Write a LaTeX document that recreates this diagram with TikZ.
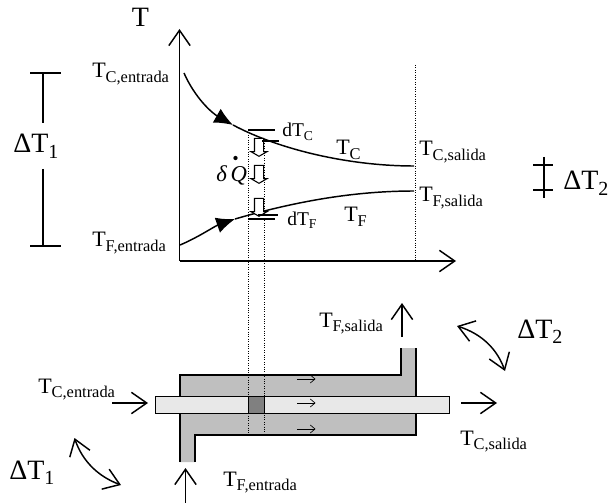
\documentclass[tikz,border=0pt]{standalone}
\usepackage{fontspec}
\setmainfont{Liberation Serif}
\usetikzlibrary{arrows.meta,shapes.arrows}
\newcommand{\subs}[3]{#2\raisebox{-0.2em}{\fontsize{#1}{#1}\selectfont #3}}
\tikzset{
   big label/.style={anchor=base west, inner sep=0pt, font=\fontsize{21}{21}\selectfont},
   temp label/.style={anchor=base west, inner sep=0pt, font=\fontsize{16.5}{16.5}\selectfont},
   diff label/.style={anchor=base west, inner sep=0pt, font=\fontsize{14.6}{14.6}\selectfont},
   branch/.style={fill, shape=circle, minimum size=3.2pt, inner sep=0pt},
   heat arrow/.style={draw=black, fill=white, line width=0.8pt, single arrow, rotate=-90, single arrow head extend=2.6pt, single arrow tip angle=120, minimum height=13.5pt, inner xsep=0pt, inner ysep=3pt},
   mark line/.style={line width=0.9pt},
   curve/.style={line width=1.1pt},
   guide/.style={densely dotted, line width=0.8pt},
   tube/.style={draw=black, line width=1pt},
   >={Straight Barb[length=11.5pt,width=16pt,line width=1.1pt]}
}

\begin{document}
\begin{tikzpicture}[x=0.75pt,y=-0.75pt]
  \useasboundingbox (0,0) rectangle (608,503);

  %% Exchanger body
  \coordinate (in left)   at (180,462);
  \coordinate (in right)  at (195,462);
  \coordinate (out left)  at (401,348);
  \coordinate (out right) at (416,348);
  \fill[black!25] (in left) |- (401,375) -- (out left) -- (out right) |- (195,435) -- (in right) -- cycle;
  \draw[tube] (in left) |- (401,375) -- (out left);
  \draw[tube] (out right) |- (195,435) -- (in right);
  \node[tube, fill=black!9, minimum width=220.5pt, minimum height=12.75pt, inner sep=0pt, anchor=west] at (155,405) (inner tube) {};
  \node[tube, fill=black!50, minimum width=12pt, minimum height=12.75pt, inner sep=0pt] at (256.5,405) (cell) {};

  %% Axes
  \coordinate (origin) at (179.5,261);
  \coordinate (y end)  at (179.5,29);
  \coordinate (x end)  at (456,261);
  \draw[->,curve] (origin) -- (y end);
  \draw[->,curve] (origin) -- (x end);
  \node[big label, anchor=base] at (140.5,27) (axis T) {T};

  %% Guides
  \coordinate (guide a top) at (248.5,130);
  \coordinate (guide a bot) at (248.5,434);
  \coordinate (guide b top) at (264.5,141);
  \coordinate (guide b bot) at (264.5,434);
  \coordinate (guide c top) at (415.5,65);
  \coordinate (guide c bot) at (415.5,261);
  \draw[guide] (guide a top) -- (guide a bot);
  \draw[guide] (guide b top) -- (guide b bot);
  \draw[guide] (guide c top) -- (guide c bot);

  %% Curves
  \coordinate (hot start) at (184,73);
  \coordinate (hot mid)   at (233,125);
  \coordinate (hot end)   at (414,166);
  \coordinate (cold start) at (180,245);
  \coordinate (cold mid)   at (235,219);
  \coordinate (cold end)   at (414,191);
  \draw[curve] (hot mid) .. controls (280,150) and (350,166) .. (hot end);
  \draw[curve,-{Latex[length=14pt,width=12pt]}] (hot start) .. controls (195,98) and (212,113) .. (hot mid);
  \draw[curve] (cold mid) .. controls (290,203) and (350,191) .. (cold end);
  \draw[curve,-{Latex[length=14pt,width=12pt]}] (cold start) .. controls (197,238) and (215,226) .. (cold mid);

  %% Heat flow
  \node[heat arrow] at (259,146)   (heat a) {};
  \node[heat arrow] at (259,173)   (heat b) {};
  \node[heat arrow] at (259,206)   (heat c) {};
  \node[temp label, font=\fontsize{17}{17}\selectfont\itshape] at (216,181) (flux) {δ\,Q};
  \node[branch] at (235.5,158) (flux dot) {};

  %% dT marks
  \draw[mark line] (248,130) coordinate (dtc a) -- (275,130) coordinate (dtc b);
  \draw[mark line] (262,141) coordinate (dtc c) -- (279,141) coordinate (dtc d);
  \draw[mark line] (258,215) coordinate (dtf a) -- (278,215) coordinate (dtf b);
  \draw[mark line] (248,219) coordinate (dtf c) -- (275,219) coordinate (dtf d);
  \node[diff label] at (282,137) (dtc) {\subs{10.2}{dT}{C}};
  \node[diff label] at (287,225) (dtf) {\subs{10.2}{dT}{F}};

  %% Temperature labels
  \node[temp label] at (92,78)   (hot in)   {\subs{12.3}{T}{C,entrada}};
  \node[temp label] at (92,247)  (cold in)  {\subs{12.3}{T}{F,entrada}};
  \node[temp label] at (336,155) (hot)      {\subs{12.3}{T}{C}};
  \node[temp label] at (344,222) (cold)     {\subs{12.3}{T}{F}};
  \node[temp label] at (419,156) (hot out)  {\subs{12.3}{T}{C,salida}};
  \node[temp label] at (419,202) (cold out) {\subs{12.3}{T}{F,salida}};

  \node[temp label] at (38,393)  (body hot in)   {\subs{12.3}{T}{C,entrada}};
  \node[temp label] at (223,486) (body cold in)  {\subs{12.3}{T}{F,entrada}};
  \node[temp label] at (319,327) (body cold out) {\subs{12.3}{T}{F,salida}};
  \node[temp label] at (460,445) (body hot out)  {\subs{12.3}{T}{C,salida}};

  %% Differences
  \node[big label] at (13,153)  (delta one)      {\subs{15}{ΔT}{1}};
  \node[big label] at (563,190) (delta two)      {\subs{15}{ΔT}{2}};
  \node[big label] at (9,479)   (body delta one) {\subs{15}{ΔT}{1}};
  \node[big label] at (517,338) (body delta two) {\subs{15}{ΔT}{2}};

  \draw[mark line] (30,73) coordinate (one a) -- (61,73) coordinate (one b);
  \draw[mark line] (30,246) coordinate (one c) -- (61,246) coordinate (one d);
  \draw[mark line] (43,73) coordinate (one top) -- (43,123) coordinate (one up);
  \draw[mark line] (43,169) coordinate (one low) -- (43,246) coordinate (one bot);
  \draw[mark line] (533,165) coordinate (two a) -- (553,165) coordinate (two b);
  \draw[mark line] (533,190) coordinate (two c) -- (553,190) coordinate (two d);
  \draw[mark line] (544,157) coordinate (two top) -- (544,198) coordinate (two bot);

  %% Flow arrows
  \coordinate (hot in tail)   at (112,403);
  \coordinate (hot in tip)    at (148,403);
  \coordinate (hot out tail)  at (461,403);
  \coordinate (hot out tip)   at (497,403);
  \coordinate (cold in tail)  at (185.5,503);
  \coordinate (cold in tip)   at (185.5,468);
  \coordinate (cold out tail) at (402,337);
  \coordinate (cold out tip)  at (402,303);
  \draw[->,curve] (hot in tail) -- (hot in tip);
  \draw[->,curve] (hot out tail) -- (hot out tip);
  \draw[->,curve] (cold in tail) -- (cold in tip);
  \draw[->,curve] (cold out tail) -- (cold out tip);

  \coordinate (swing a) at (74.5,438);
  \coordinate (swing b) at (121,485);
  \coordinate (swing c) at (457,326);
  \coordinate (swing d) at (505,371);
  \draw[<->,curve] (swing a) .. controls (82,460) and (97,476) .. (swing b);
  \draw[<->,curve] (swing c) .. controls (482,334) and (497,349) .. (swing d);

  %% Inside the exchanger
  \foreach \y/\name in {379/top,403/mid,429/bot} {
    \coordinate (\name\space tail) at (297,\y);
    \coordinate (\name\space tip)  at (315.5,\y);
    \draw[-{Straight Barb[length=3.5pt,width=6pt]},line width=0.5pt] (\name\space tail) -- (\name\space tip);
  }

\end{tikzpicture}
\end{document}
